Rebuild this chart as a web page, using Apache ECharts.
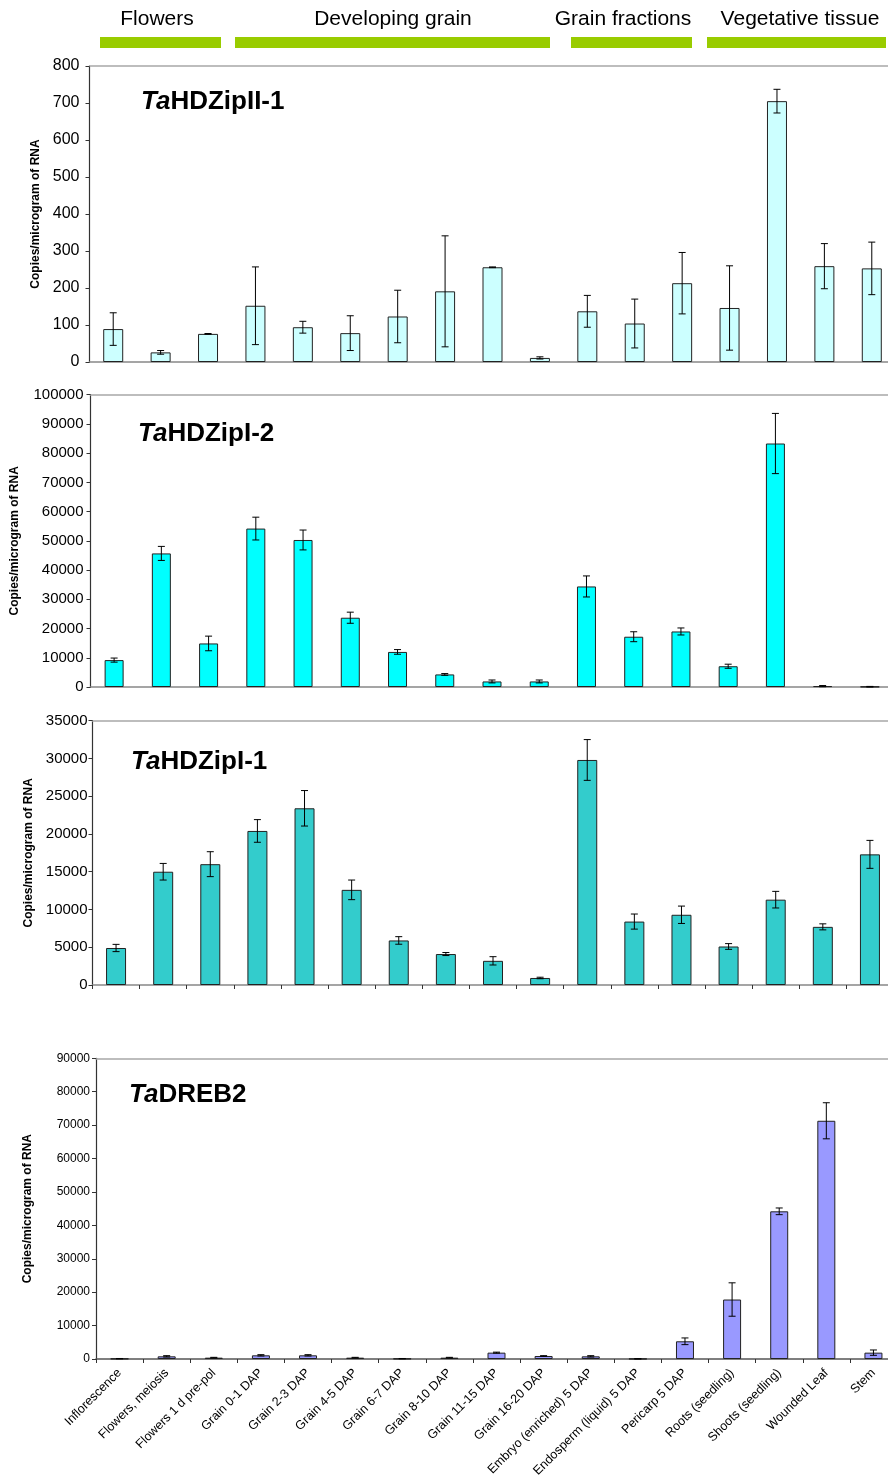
<!DOCTYPE html>
<html>
<head>
<meta charset="utf-8">
<script src="https://cdn.jsdelivr.net/npm/echarts@6/dist/echarts.min.js"></script>
<style>html,body{margin:0;padding:0;background:#fff;overflow:hidden}#c{width:900px;height:1481px}</style>
</head>
<body>
<div id="c"></div>
<script>
const categories = ['Inflorescence','Flowers, meiosis','Flowers 1 d pre-pol','Grain 0-1 DAP','Grain 2-3 DAP','Grain 4-5 DAP','Grain 6-7 DAP','Grain 8-10 DAP','Grain 11-15 DAP','Grain 16-20 DAP','Embryo (enriched) 5 DAP','Endosperm (liquid) 5 DAP','Pericarp 5 DAP','Roots (seedling)','Shoots (seedling)','Wounded Leaf','Stem'];
const groupLabels = ['Flowers','Developing grain','Grain fractions','Vegetative tissue'];
const geneNames = ['HDZipII-1','HDZipI-2','HDZipI-1','DREB2'];
const yMax = [800,100000,35000,90000];
const yStep = [100,10000,5000,10000];
const hdzipII1Values = [89,26,76,152,94,78,123,191,256,11,137,104,213,146,705,259,253];
const hdzipII1Errors = [44,5,1,105,16,47,71,150,1,3,43,66,83,114,32,61,71];
const hdzipI2Values = [9200,45700,14900,54200,50300,23700,12000,4300,1900,1900,34400,17200,19000,7100,83300,300,100];
const hdzipI2Errors = [700,2400,2500,3900,3400,1900,800,300,500,500,3600,1700,1200,700,10300,200,100];
const hdzipI1Values = [4900,15000,16000,20400,23400,12600,5900,4100,3200,930,29800,8400,9300,5100,11300,7700,17300];
const hdzipI1Errors = [480,1100,1650,1500,2350,1300,500,200,550,100,2700,1000,1150,380,1100,400,1850];
const dreb2Values = [100,800,400,1100,1100,400,100,400,1900,900,800,50,5300,17800,44200,71300,1900];
const dreb2Errors = [50,200,100,200,200,100,50,100,150,100,200,30,1000,5000,1000,5400,800];

const valueSets = [hdzipII1Values, hdzipI2Values, hdzipI1Values, dreb2Values];
const errorSets = [hdzipII1Errors, hdzipI2Errors, hdzipI1Errors, dreb2Errors];

const FONT = "'Liberation Sans', Arial, sans-serif";
const panels = [
  {left:89.5, width:806, top:66, height:296, color:'#CCFFFF', barWidth:20, labelSize:16, labelMargin:10, nameGap:48, xTicks:false, xLabels:false, titleLeft:141, titleTop:89},
  {left:90.5, width:803, top:394.7, height:292.3, color:'#00FFFF', barWidth:19, labelSize:15, labelMargin:7, nameGap:70, xTicks:false, xLabels:false, titleLeft:138, titleTop:421},
  {left:92.5, width:801, top:720.7, height:264.3, color:'#33CCCC', barWidth:20, labelSize:15, labelMargin:5, nameGap:55, xTicks:true, xLabels:false, titleLeft:131, titleTop:749},
  {left:96, width:801, top:1058.3, height:300.7, color:'#9999FF', barWidth:18, labelSize:12, labelMargin:6, nameGap:62, xTicks:true, xLabels:true, titleLeft:129, titleTop:1082}
];
// header decorations (label centre, bar start, bar end)
const header = [
  {cx:157, x0:100, x1:221},
  {cx:393, x0:235, x1:550},
  {cx:623, x0:571, x1:692},
  {cx:800, x0:707, x1:886}
];

function errRender(params, api) {
  const i = api.value(0), v = api.value(1), e = api.value(2);
  const top = api.coord([i, v + e]);
  const bot = api.coord([i, Math.max(v - e, 0)]);
  const x = top[0], w = 3.5;
  const st = {stroke:'#000', lineWidth:1};
  return {type:'group', children:[
    {type:'line', shape:{x1:x, y1:top[1], x2:x, y2:bot[1]}, style:st},
    {type:'line', shape:{x1:x-w, y1:top[1], x2:x+w, y2:top[1]}, style:st},
    {type:'line', shape:{x1:x-w, y1:bot[1], x2:x+w, y2:bot[1]}, style:st}
  ]};
}

const grid = [], xAxis = [], yAxis = [], series = [], title = [];
panels.forEach((p, k) => {
  grid.push({left:p.left, width:p.width, top:p.top, height:p.height, containLabel:false});
  xAxis.push({
    type:'category', gridIndex:k, data:categories, position:'bottom',
    axisLine:{show:true, lineStyle:{color: k===3 ? '#555' : '#888', width: 1.5}},
    axisTick:{show:p.xTicks, alignWithLabel:false, length:4, lineStyle:{color:'#333'}},
    axisLabel:{show:p.xLabels, interval:0, rotate:45, fontSize:12.5, fontFamily:FONT, color:'#000', margin:12},
    splitLine:{show:false}
  });
  xAxis.push({
    type:'category', gridIndex:k, data:categories, position:'top',
    axisLine:{show:true, lineStyle:{color:'#a8a8a8', width:1.5}},
    axisTick:{show:false}, axisLabel:{show:false}, splitLine:{show:false}
  });
  yAxis.push({
    type:'value', gridIndex:k, min:0, max:yMax[k], interval:yStep[k],
    name:'Copies/microgram of RNA', nameLocation:'middle', nameGap:p.nameGap,
    nameTextStyle:{fontSize:12, fontWeight:'bold', fontFamily:FONT, color:'#000'},
    axisLine:{show:true, lineStyle:{color:'#333', width:1.2}},
    axisTick:{show:true, length:4, lineStyle:{color:'#333'}},
    axisLabel:{fontSize:p.labelSize, fontFamily:FONT, color:'#000', margin:p.labelMargin, formatter:(v) => String(v)},
    splitLine:{show:false}
  });
  series.push({
    type:'bar', xAxisIndex:2*k, yAxisIndex:k, data:valueSets[k], barWidth:p.barWidth,
    itemStyle:{color:p.color, borderColor:'#222', borderWidth:1}, animation:false
  });
  series.push({
    type:'custom', xAxisIndex:2*k, yAxisIndex:k, renderItem:errRender, z:5,
    data:valueSets[k].map((v, i) => [i, v, errorSets[k][i]]),
    encode:{x:0, y:1}, animation:false
  });
  title.push({
    text:'{it|Ta}{rg|' + geneNames[k] + '}', left:p.titleLeft, top:p.titleTop, padding:0,
    textStyle:{rich:{
      it:{fontSize:26, fontWeight:'bold', fontStyle:'italic', fontFamily:FONT, color:'#000'},
      rg:{fontSize:26, fontWeight:'bold', fontFamily:FONT, color:'#000'}
    }}
  });
});

const graphic = [];
groupLabels.forEach((g, j) => {
  const h = header[j];
  graphic.push({type:'rect', shape:{x:h.x0, y:37, width:h.x1 - h.x0, height:11}, style:{fill:'#99CC00'}});
  graphic.push({type:'text', x:h.cx, y:19,
    style:{text:g, font:"21px 'Liberation Sans', Arial, sans-serif", fill:'#000', textAlign:'center', textVerticalAlign:'middle'}});
});

const chart = echarts.init(document.getElementById('c'), null, {renderer:'canvas'});
chart.setOption({animation:false, title, grid, xAxis, yAxis, series, graphic});
</script>
</body>
</html>
